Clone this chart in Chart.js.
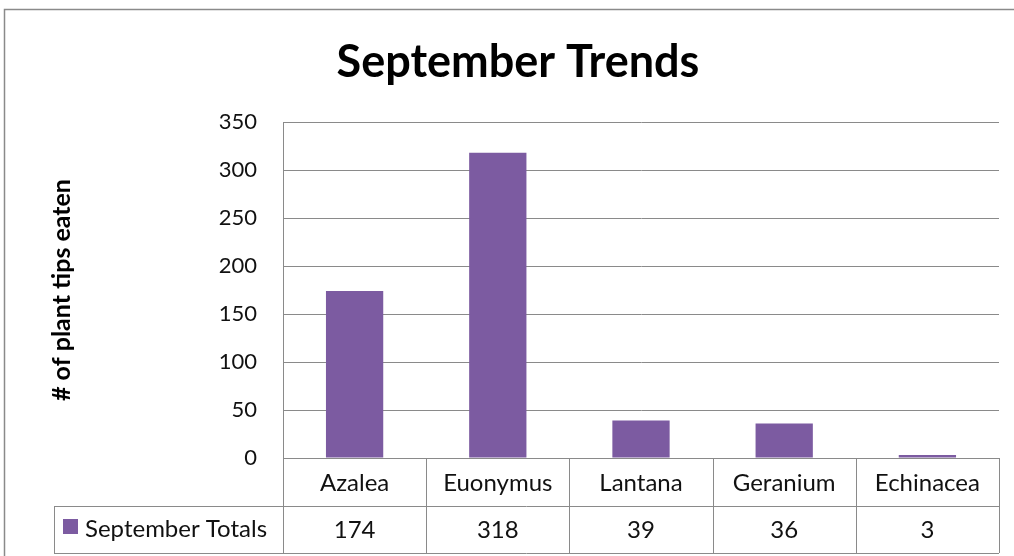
<!DOCTYPE html>
<html>
<head>
<meta charset="utf-8">
<script src="https://cdn.jsdelivr.net/npm/chart.js@4"></script>
<style>
  html, body { margin: 0; padding: 0; background: #fff; }
  #wrap { width: 1014px; height: 556px; }
</style>
</head>
<body>
<div id="wrap"><canvas id="grafico" width="1014" height="556"></canvas></div>
<script>
// ===== dados =====
const categorias = ["Azalea", "Euonymus", "Lantana", "Geranium", "Echinacea"];
const totais = [174, 318, 39, 36, 3];
const nomeSerie = "September Totals";
const titulo = "September Trends";
const yTicks = [0, 50, 100, 150, 200, 250, 300, 350];

const roxo = "#7C5BA1";
const cinza = "#8a8a8a";
const fonte = "Lato, 'Open Sans', sans-serif";

// borda externa, titulo e tabela de dados embaixo do eixo
const tabelaPlugin = {
  id: "tabela",
  beforeDraw(chart) {
    const c = chart.ctx;
    c.save();
    c.fillStyle = "#fff";
    c.fillRect(0, 0, chart.width, chart.height);
    c.strokeStyle = cinza;
    c.lineWidth = 1.5;
    c.strokeRect(4.5, 9.5, chart.width + 20, chart.height + 20);

    c.fillStyle = "#000";
    c.font = "bold 45px " + fonte;
    c.textAlign = "center";
    c.textBaseline = "middle";
    c.fillText(titulo, 518, 62);
    c.restore();
  },
  afterDraw(chart) {
    const c = chart.ctx;
    const x = chart.scales.x;
    const area = chart.chartArea;
    const n = categorias.length;
    const w = (area.right - area.left) / n;
    const y0 = area.bottom, y1 = y0 + 48, y2 = y1 + 47;
    const legLeft = 54;

    c.save();
    c.strokeStyle = cinza;
    c.lineWidth = 1;
    c.beginPath();
    // linhas horizontais
    c.moveTo(area.left, y0 + 0.5); c.lineTo(area.right, y0 + 0.5);
    c.moveTo(legLeft, y1 + 0.5); c.lineTo(area.right, y1 + 0.5);
    c.moveTo(legLeft, y2 + 0.5); c.lineTo(area.right, y2 + 0.5);
    // linhas verticais
    for (let i = 0; i <= n; i++) {
      const px = Math.round(area.left + i * w) + 0.5;
      c.moveTo(px, y0); c.lineTo(px, y2);
    }
    c.moveTo(legLeft + 0.5, y1); c.lineTo(legLeft + 0.5, y2);
    c.stroke();

    c.fillStyle = "#111";
    c.font = "24px " + fonte;
    c.textAlign = "center";
    c.textBaseline = "middle";
    categorias.forEach((cat, i) => {
      const cx = x.getPixelForValue(i);
      c.fillText(cat, cx, (y0 + y1) / 2 + 1);
      c.fillText(String(totais[i]), cx, (y1 + y2) / 2 + 1);
    });

    // legenda
    c.fillStyle = roxo;
    c.fillRect(63, 519, 15, 15);
    c.fillStyle = "#111";
    c.textAlign = "left";
    c.fillText(nomeSerie, 85, (y1 + y2) / 2);
    c.restore();
  }
};

const ctx = document.getElementById("grafico");

new Chart(ctx, {
  type: "bar",
  data: {
    labels: categorias,
    datasets: [{
      label: nomeSerie,
      data: totais,
      backgroundColor: roxo,
      borderWidth: 0,
      categoryPercentage: 1,
      barPercentage: 0.4
    }]
  },
  options: {
    responsive: false,
    animation: false,
    layout: { padding: { left: 0, right: 15, top: 122, bottom: 98 } },
    plugins: {
      legend: { display: false },
      tooltip: { enabled: false },
      title: { display: false }
    },
    scales: {
      x: {
        display: false,
        offset: true
      },
      y: {
        min: 0,
        max: 350,
        afterBuildTicks(scale) {
          scale.ticks = yTicks.map(v => ({ value: v }));
        },
        afterFit(scale) {
          scale.width = 283;
        },
        border: { display: true, color: cinza },
        grid: { color: cinza, lineWidth: 1, drawTicks: false },
        ticks: {
          color: "#111",
          padding: 26,
          font: { family: fonte, size: 22 }
        },
        title: {
          display: true,
          text: "# of plant tips eaten",
          color: "#000",
          font: { family: fonte, size: 25, weight: "bold" },
          padding: { top: 47, bottom: 0 }
        }
      }
    }
  },
  plugins: [tabelaPlugin]
});
</script>
</body>
</html>
